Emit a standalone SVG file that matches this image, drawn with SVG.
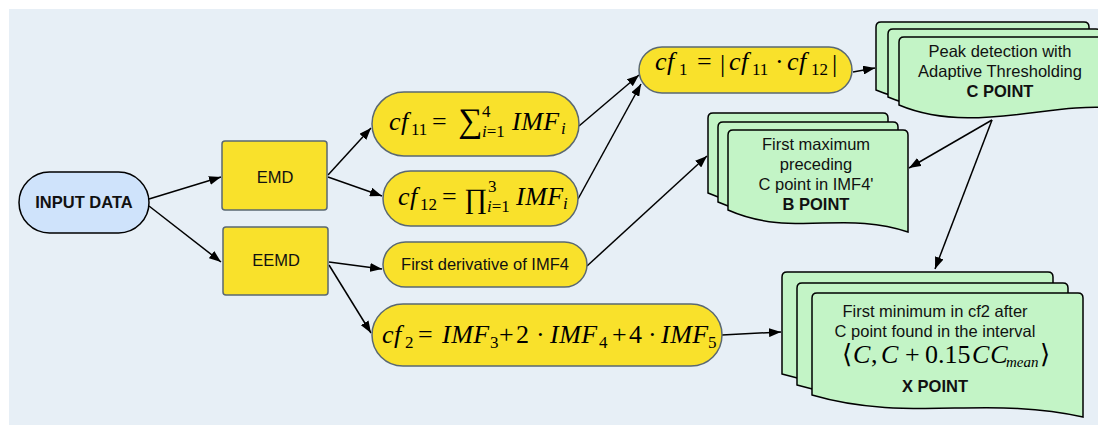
<svg xmlns="http://www.w3.org/2000/svg" width="1098" height="425" viewBox="0 0 1098 425">
<defs>
<marker id="ah" markerUnits="userSpaceOnUse" markerWidth="12" markerHeight="9" refX="12" refY="4.5" orient="auto">
<path d="M0,0 L12,4.5 L0,9 z" fill="#000"/>
</marker>
<style>
.bg{fill:#e7eff6}
.y{fill:#f9e12b;stroke:#5a6872;stroke-width:1.5}
.g{fill:#c3f4c6;stroke:#000;stroke-width:1.5}
.in{fill:#cfe3fb;stroke:#000;stroke-width:1.5}
.t{font-family:"Liberation Sans",Arial,sans-serif;font-size:16.5px;fill:#111;text-anchor:middle}
.b{font-weight:bold}
.m{font-family:"Liberation Serif","DejaVu Serif",serif;font-size:26px;fill:#000}
.i{font-style:italic}
.s{font-size:17px}
.c line{stroke:#000;stroke-width:1.5;marker-end:url(#ah)}
</style>
</defs>
<rect class="bg" x="9" y="9" width="1089" height="416"/>

<g class="c" id="connectors">
<line x1="149" y1="199" x2="221" y2="177"/>
<line x1="149" y1="206" x2="221" y2="262"/>
<line x1="328" y1="175" x2="371" y2="128"/>
<line x1="328" y1="177" x2="382" y2="196"/>
<line x1="329" y1="262" x2="382" y2="269"/>
<line x1="329" y1="265" x2="371" y2="333"/>
<line x1="579" y1="126" x2="639" y2="75"/>
<line x1="578" y1="199" x2="641" y2="84"/>
<line x1="587" y1="266" x2="707" y2="156"/>
<line x1="853" y1="72" x2="875" y2="68"/>
<line x1="992" y1="120" x2="909" y2="168"/>
<line x1="992" y1="120" x2="935" y2="269"/>
<line x1="722" y1="335" x2="781" y2="332"/>
</g>

<g id="input">
<rect class="in" x="19" y="172" width="130" height="61" rx="30.5"/>
<text class="t b" x="84" y="208">INPUT DATA</text>
</g>

<g id="emd">
<rect class="y" x="222" y="141" width="105" height="69" rx="3"/>
<text class="t" x="275" y="183">EMD</text>
</g>

<g id="eemd">
<rect class="y" x="223" y="227" width="105" height="68" rx="3"/>
<text class="t" x="276" y="266">EEMD</text>
</g>

<g id="cf11">
<rect class="y" x="372" y="92" width="207" height="64" rx="32"/>
<text class="m">
<tspan class="i" x="389" y="130">c</tspan><tspan class="i" x="401" y="130">f</tspan><tspan class="s" x="411" y="135">11</tspan>
<tspan x="432" y="130">=</tspan>
<tspan x="458" y="132" font-size="34">∑</tspan>
<tspan class="s" x="482" y="117">4</tspan>
<tspan class="s i" x="482" y="137">i</tspan><tspan class="s">=1</tspan>
<tspan class="i" x="512" y="130" letter-spacing="0.5">IMF</tspan><tspan class="s i" x="561" y="134">i</tspan>
</text>
</g>

<g id="cf12">
<rect class="y" x="383" y="171" width="195" height="55" rx="27.5"/>
<text class="m">
<tspan class="i" x="398" y="205">c</tspan><tspan class="i" x="410" y="205">f</tspan><tspan class="s" x="420" y="210">12</tspan>
<tspan x="442" y="205">=</tspan>
<tspan x="464" y="208" font-size="28">∏</tspan>
<tspan class="s" x="488" y="192">3</tspan>
<tspan class="s i" x="487" y="212">i</tspan><tspan class="s">=1</tspan>
<tspan class="i" x="516" y="205" letter-spacing="0.5">IMF</tspan><tspan class="s i" x="563" y="209">i</tspan>
</text>
</g>

<g id="cf1">
<rect class="y" x="639" y="47" width="213" height="46" rx="23"/>
<text class="m">
<tspan class="i" x="655" y="70">c</tspan><tspan class="i" x="667" y="70">f</tspan><tspan class="s" x="679" y="75">1</tspan>
<tspan x="697" y="70">=</tspan>
<tspan x="720" y="72">|</tspan>
<tspan class="i" x="729" y="70">c</tspan><tspan class="i" x="741" y="70">f</tspan><tspan class="s" x="752" y="75">11</tspan>
<tspan x="775" y="70">·</tspan>
<tspan class="i" x="787" y="70">c</tspan><tspan class="i" x="799" y="70">f</tspan><tspan class="s" x="811" y="75">12</tspan>
<tspan x="832" y="72">|</tspan>
</text>
</g>

<g id="firstderiv">
<rect class="y" x="383" y="242" width="204" height="45" rx="22.5"/>
<text class="t" x="485" y="270">First derivative of IMF4</text>
</g>

<g id="cf2">
<rect class="y" x="372" y="304" width="350" height="62" rx="31"/>
<text class="m">
<tspan class="i" x="382" y="343">c</tspan><tspan class="i" x="394" y="343">f</tspan><tspan class="s" x="405" y="348">2</tspan>
<tspan x="418" y="343">=</tspan>
<tspan class="i" x="442" y="343" letter-spacing="0.5">IMF</tspan><tspan class="s" x="490" y="348">3</tspan>
<tspan x="499" y="343">+</tspan>
<tspan x="516" y="343">2</tspan>
<tspan x="536" y="343">·</tspan>
<tspan class="i" x="550" y="343" letter-spacing="0.5">IMF</tspan><tspan class="s" x="599" y="348">4</tspan>
<tspan x="612" y="343">+</tspan>
<tspan x="629" y="343">4</tspan>
<tspan x="648" y="343">·</tspan>
<tspan class="i" x="661" y="343" letter-spacing="0.5">IMF</tspan><tspan class="s" x="708" y="348">5</tspan>
</text>
</g>

<g id="cpoint">
<path class="g" d="M876,27 Q876,22 881,22 H1084 Q1089,22 1089,27 V93 C1027,87 947,120 876,90 Z"/>
<path class="g" d="M888,34 Q888,29 893,29 H1096 Q1101,29 1101,34 V100 C1039,94 959,127 888,97 Z"/>
<path class="g" d="M899,42 Q899,37 904,37 H1107 Q1112,37 1112,42 V108 C1050,102 970,135 899,105 Z"/>
<text class="t" x="1000" y="57">Peak detection with</text>
<text class="t" x="1000" y="77">Adaptive Thresholding</text>
<text class="t b" x="1000" y="97">C POINT</text>
</g>

<g id="bpoint">
<path class="g" d="M708,118 Q708,113 713,113 H883 Q888,113 888,118 V215 C825,193 771,221 708,193 Z"/>
<path class="g" d="M718,127 Q718,122 723,122 H893 Q898,122 898,127 V224 C835,202 781,230 718,202 Z"/>
<path class="g" d="M728,135 Q728,130 733,130 H903 Q908,130 908,135 V232 C845,210 791,238 728,210 Z"/>
<text class="t" x="816" y="150">First maximum</text>
<text class="t" x="816" y="170">preceding</text>
<text class="t" x="816" y="190">C point in IMF4'</text>
<text class="t b" x="816" y="210">B POINT</text>
</g>

<g id="xpoint">
<path class="g" d="M782,277 Q782,272 787,272 H1048 Q1053,272 1053,277 V396 C958,374 877,402 782,374 Z"/>
<path class="g" d="M797,288 Q797,283 802,283 H1063 Q1068,283 1068,288 V407 C973,385 892,413 797,385 Z"/>
<path class="g" d="M812,298 Q812,293 817,293 H1078 Q1083,293 1083,298 V417 C988,395 907,423 812,395 Z"/>
<text class="t" x="935" y="317">First minimum in cf2 after</text>
<text class="t" x="935" y="337">C point found in the interval</text>
<text class="m" font-size="23">
<tspan x="842" y="363">⟨</tspan>
<tspan class="i" x="853" y="363">C</tspan><tspan x="871" y="363">,</tspan>
<tspan class="i" x="881" y="363">C</tspan>
<tspan x="905" y="363">+</tspan>
<tspan x="925" y="363">0.15</tspan>
<tspan class="i" x="972" y="363" letter-spacing="1">CC</tspan>
<tspan class="i" x="1006" y="367" font-size="15">mean</tspan>
<tspan x="1040" y="363">⟩</tspan>
</text>
<text class="t b" x="935" y="392">X POINT</text>
</g>
</svg>
